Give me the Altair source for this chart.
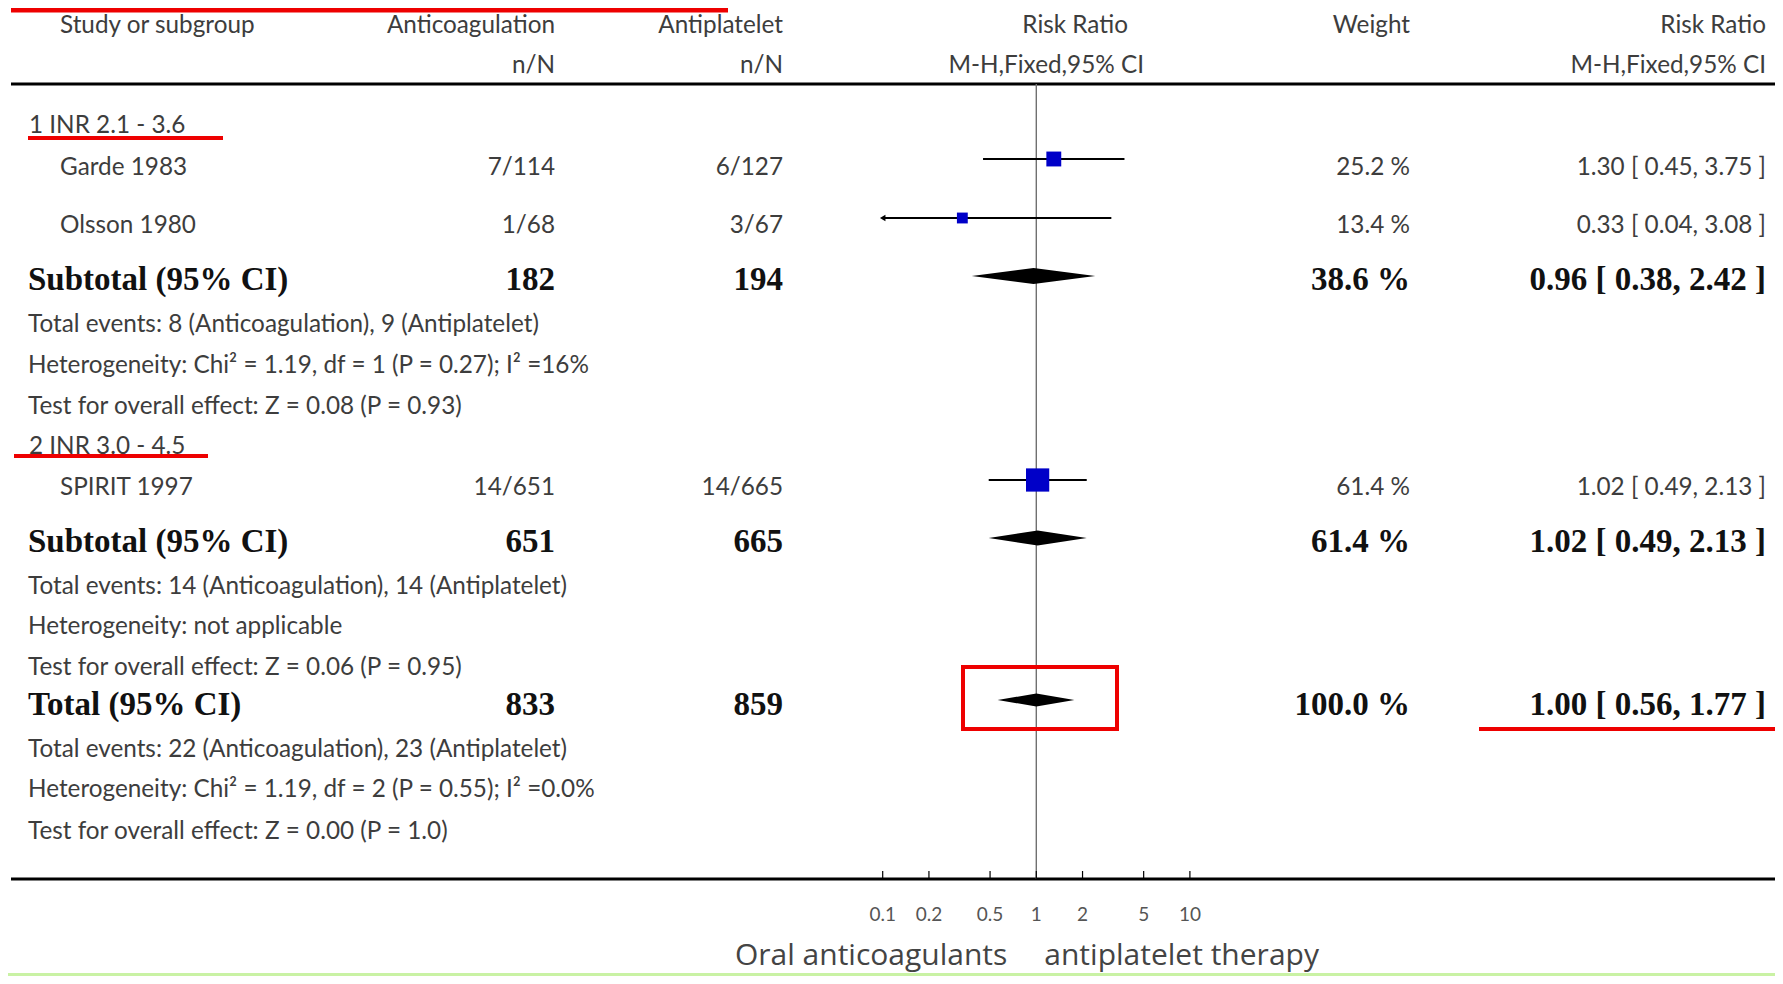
import math
import altair as alt
import pandas as pd

# ------------------------------------------------------------------ data
study_names = ["Garde 1983", "Olsson 1980", "SPIRIT 1997"]
study_anticoag = ["7/114", "1/68", "14/651"]
study_antiplatelet = ["6/127", "3/67", "14/665"]
study_rr = [1.30, 0.33, 1.02]
study_lo = [0.45, 0.04, 0.49]
study_hi = [3.75, 3.08, 2.13]
study_weight = [25.2, 13.4, 61.4]

subgroup_labels = ["1 INR 2.1 - 3.6", "2 INR 3.0 - 4.5"]

summary_labels = ["Subtotal (95% CI)", "Subtotal (95% CI)", "Total (95% CI)"]
summary_anticoag = [182, 651, 833]
summary_antiplatelet = [194, 665, 859]
summary_rr = [0.96, 1.02, 1.00]
summary_lo = [0.38, 0.49, 0.56]
summary_hi = [2.42, 2.13, 1.77]
summary_weight = [38.6, 61.4, 100.0]

note_lines = [
    "Total events: 8 (Anticoagulation), 9 (Antiplatelet)",
    "Heterogeneity: Chi\u00b2 = 1.19, df = 1 (P = 0.27); I\u00b2 =16%",
    "Test for overall effect: Z = 0.08 (P = 0.93)",
    "Total events: 14 (Anticoagulation), 14 (Antiplatelet)",
    "Heterogeneity: not applicable",
    "Test for overall effect: Z = 0.06 (P = 0.95)",
    "Total events: 22 (Anticoagulation), 23 (Antiplatelet)",
    "Heterogeneity: Chi\u00b2 = 1.19, df = 2 (P = 0.55); I\u00b2 =0.0%",
    "Test for overall effect: Z = 0.00 (P = 1.0)",
]

header_top = ["Study or subgroup", "Anticoagulation", "Antiplatelet", "Risk Ratio", "Weight", "Risk Ratio"]
header_bottom = ["n/N", "n/N", "M-H,Fixed,95% CI", "M-H,Fixed,95% CI"]

axis_ticks = [0.1, 0.2, 0.5, 1, 2, 5, 10]
axis_tick_labels = ["0.1", "0.2", "0.5", "1", "2", "5", "10"]
favours = ["Oral anticoagulants", "antiplatelet therapy"]
display_min = 0.1

# ------------------------------------------------------------------ layout
W, H = 1767, 968
X_ONE = 1028.3          # pixel of RR = 1
DECADE = 153.6          # pixels per decade
x_scale = alt.Scale(type="log", domain=[10 ** (-X_ONE / DECADE), 10 ** ((W - X_ONE) / DECADE)],
                    range=[0, W], nice=False)
y_scale = alt.Scale(domain=[0, H], reverse=True, nice=False, zero=False)

HEADER_Y = [18, 58]
HEADER_LINE_Y = 76
SUBGROUP_Y = [118, 439]
STUDY_TEXT_Y = [160, 218, 480]
STUDY_MARK_Y = [151, 210, 472]
SUMMARY_TEXT_Y = [272, 534, 697]
SUMMARY_MARK_Y = [268, 530, 692]
NOTE_Y = [317, 358, 399, 579, 619, 660, 742, 782, 824]
DIAMOND_H = [16, 15, 13]
AXIS_Y = 871
TICK_LABEL_Y = 907
FAVOURS_Y = 948

COL_NOTE = 20
COL_SUB = 21
COL_STUDY = 52
COL_N1 = 547
COL_N2 = 775
COL_RRH1 = 1120
COL_RRH2 = 1136
COL_W = 1402
COL_RR = 1758

LIGHT = dict(font="Lato", fontSize=24.3, color="#3d3d3d")
BOLD = dict(font="Liberation Serif", fontSize=33, fontWeight="bold", color="#111111")
RED = "#ee0000"

X = lambda f: alt.X(f, type="quantitative", scale=x_scale, axis=None)
Y = lambda f: alt.Y(f, type="quantitative", scale=y_scale, axis=None)

layers = []


def text_layer(texts, ys, xpx, align, style, dx=0):
    df = pd.DataFrame({"t": texts, "y": ys})
    return alt.Chart(df).mark_text(align=align, baseline="middle", dx=dx, **style).encode(
        x=alt.value(xpx), y=Y("y"), text="t:N")


# header
layers.append(text_layer([header_top[0]], [HEADER_Y[0]], COL_STUDY, "left", LIGHT))
layers.append(text_layer([header_top[1], header_bottom[0]], HEADER_Y, COL_N1, "right", LIGHT))
layers.append(text_layer([header_top[2], header_bottom[1]], HEADER_Y, COL_N2, "right", LIGHT))
layers.append(text_layer([header_top[3]], [HEADER_Y[0]], COL_RRH1, "right", LIGHT))
layers.append(text_layer([header_bottom[2]], [HEADER_Y[1]], COL_RRH2, "right", LIGHT))
layers.append(text_layer([header_top[4]], [HEADER_Y[0]], COL_W, "right", LIGHT))
layers.append(text_layer([header_top[5], header_bottom[3]], HEADER_Y, COL_RR, "right", LIGHT))

# subgroup labels
layers.append(text_layer(subgroup_labels, SUBGROUP_Y, COL_SUB, "left", LIGHT))

# study rows
fmt_ci = lambda r, l, h: f"{r:.2f} [ {l:.2f}, {h:.2f} ]"
layers.append(text_layer(study_names, STUDY_TEXT_Y, COL_STUDY, "left", LIGHT))
layers.append(text_layer(study_anticoag, STUDY_TEXT_Y, COL_N1, "right", LIGHT))
layers.append(text_layer(study_antiplatelet, STUDY_TEXT_Y, COL_N2, "right", LIGHT))
layers.append(text_layer([f"{w:.1f} %" for w in study_weight], STUDY_TEXT_Y, COL_W, "right", LIGHT))
layers.append(text_layer([fmt_ci(r, l, h) for r, l, h in zip(study_rr, study_lo, study_hi)],
                         STUDY_TEXT_Y, COL_RR, "right", LIGHT))

# summary rows
layers.append(text_layer(summary_labels, SUMMARY_TEXT_Y, COL_NOTE, "left", BOLD))
layers.append(text_layer([str(v) for v in summary_anticoag], SUMMARY_TEXT_Y, COL_N1, "right", BOLD))
layers.append(text_layer([str(v) for v in summary_antiplatelet], SUMMARY_TEXT_Y, COL_N2, "right", BOLD))
layers.append(text_layer([f"{w:.1f} %" for w in summary_weight], SUMMARY_TEXT_Y, COL_W, "right", BOLD))
layers.append(text_layer([fmt_ci(r, l, h) for r, l, h in zip(summary_rr, summary_lo, summary_hi)],
                         SUMMARY_TEXT_Y, COL_RR, "right", BOLD))

# notes
layers.append(text_layer(note_lines, NOTE_Y, COL_NOTE, "left", LIGHT))

# header / bottom lines
hl = pd.DataFrame({"y": [HEADER_LINE_Y, AXIS_Y]})
layers.append(alt.Chart(hl).mark_rule(color="#000000", strokeWidth=3).encode(
    x=alt.value(3), x2=alt.value(W), y=Y("y")))

# line of no effect
ne = pd.DataFrame({"x": [1], "y": [HEADER_LINE_Y], "y2": [AXIS_Y]})
layers.append(alt.Chart(ne).mark_rule(color="#707070", strokeWidth=1.4).encode(
    x=X("x"), y=Y("y"), y2="y2:Q"))

# study CIs
sd = pd.DataFrame({
    "rr": study_rr,
    "lo": [max(v, display_min) for v in study_lo],
    "hi": study_hi,
    "w": study_weight,
    "y": STUDY_MARK_Y,
    "clipped": [v < display_min for v in study_lo],
})
layers.append(alt.Chart(sd).mark_rule(color="#000000", strokeWidth=2).encode(
    x=X("lo"), x2="hi:Q", y=Y("y")))
layers.append(alt.Chart(sd[sd["clipped"]]).mark_point(
    shape="triangle-left", filled=True, color="#000000", opacity=1, size=40).encode(
    x=X("lo"), y=Y("y")))
layers.append(alt.Chart(sd).mark_square(color="#0000c8", opacity=1).encode(
    x=X("rr"), y=Y("y"),
    size=alt.Size("w:Q", scale=alt.Scale(domain=[0, 61.4], range=[0, 540]), legend=None)))

# diamonds
rows = []
for i, (r, l, h) in enumerate(zip(summary_rr, summary_lo, summary_hi)):
    yc, hh = SUMMARY_MARK_Y[i], DIAMOND_H[i] / 2
    rows += [
        {"id": i, "x": l, "y": yc, "y2": yc},
        {"id": i, "x": r, "y": yc - hh, "y2": yc + hh},
        {"id": i, "x": h, "y": yc, "y2": yc},
    ]
dd = pd.DataFrame(rows)
layers.append(alt.Chart(dd).mark_area(color="#000000", opacity=1, interpolate="linear").encode(
    x=X("x"), y=Y("y"), y2="y2:Q", detail="id:N"))

# axis ticks and labels
tk = pd.DataFrame({"x": axis_ticks, "lab": axis_tick_labels, "y": [AXIS_Y - 8] * len(axis_ticks),
                   "y2": [AXIS_Y] * len(axis_ticks), "ly": [TICK_LABEL_Y] * len(axis_ticks)})
layers.append(alt.Chart(tk).mark_rule(color="#000000", strokeWidth=1.2).encode(
    x=X("x"), y=Y("y"), y2="y2:Q"))
layers.append(alt.Chart(tk).mark_text(font="Lato", fontSize=19, color="#555555", baseline="middle").encode(
    x=X("x"), y=Y("ly"), text="lab:N"))

# favours labels
fv = pd.DataFrame({"x": [1], "y": [FAVOURS_Y], "left": [favours[0]], "right": [favours[1]]})
layers.append(alt.Chart(fv).mark_text(font="Open Sans", fontSize=30, color="#444444",
                                      align="right", baseline="middle", dx=-29).encode(
    x=X("x"), y=Y("y"), text="left:N"))
layers.append(alt.Chart(fv).mark_text(font="Open Sans", fontSize=30, color="#444444",
                                      align="left", baseline="middle", dx=8).encode(
    x=X("x"), y=Y("y"), text="right:N"))

# red annotations
layers.append(alt.Chart(pd.DataFrame({"y": [2]})).mark_rule(color=RED, strokeWidth=5).encode(
    x=alt.value(3), x2=alt.value(720), y=Y("y")))
layers.append(alt.Chart(pd.DataFrame({"y": [130]})).mark_rule(color=RED, strokeWidth=4).encode(
    x=alt.value(20), x2=alt.value(215), y=Y("y")))
layers.append(alt.Chart(pd.DataFrame({"y": [448]})).mark_rule(color=RED, strokeWidth=4).encode(
    x=alt.value(6), x2=alt.value(200), y=Y("y")))
layers.append(alt.Chart(pd.DataFrame({"y": [721]})).mark_rule(color=RED, strokeWidth=4).encode(
    x=alt.value(1471), x2=alt.value(W), y=Y("y")))
layers.append(alt.Chart(pd.DataFrame({"y": [659], "y2": [721]})).mark_rect(
    fill=None, fillOpacity=0, stroke=RED, strokeWidth=4).encode(
    x=alt.value(955), x2=alt.value(1109), y=Y("y"), y2="y2:Q"))

# light green frame edge at the bottom
layers.append(alt.Chart(pd.DataFrame({"y": [H - 1]})).mark_rule(color="#c9f2a4", strokeWidth=4).encode(
    x=alt.value(0), x2=alt.value(W), y=Y("y")))

chart = alt.layer(*layers).properties(
    width=W, height=H, padding=0, autosize=alt.AutoSizeParams(type="none")
).configure_view(stroke=None)

chart.save("out.html", embed_options={"renderer": "svg", "actions": False})
